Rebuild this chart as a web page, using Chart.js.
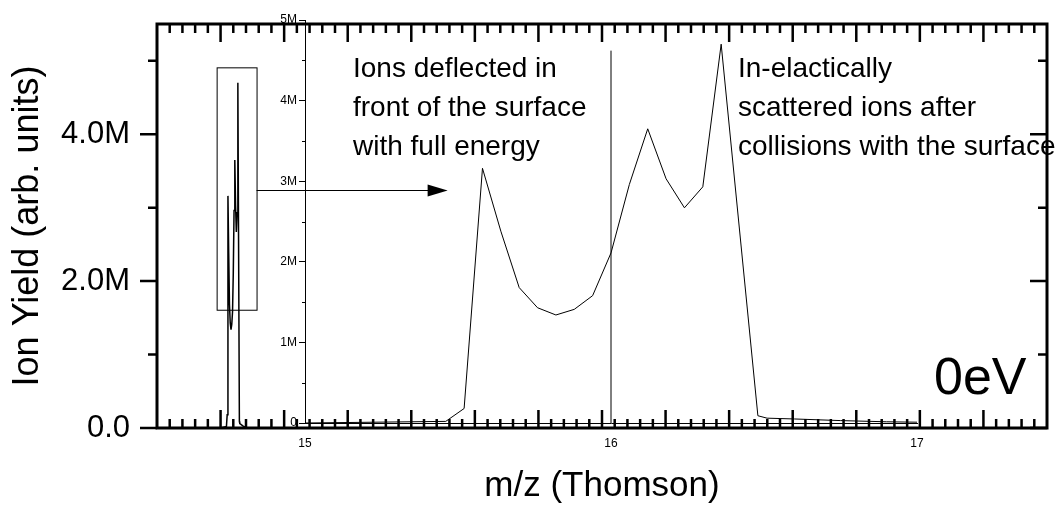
<!DOCTYPE html>
<html>
<head>
<meta charset="utf-8">
<title>Ion Yield 0eV</title>
<script src="https://cdn.jsdelivr.net/npm/chart.js@4.4.1/dist/chart.umd.min.js"></script>
<style>
    html, body { margin: 0; padding: 0; background: #fff; }
    #wrap { position: relative; width: 1061px; height: 506px; overflow: hidden; }
    #mainChart { position: absolute; left: 0; top: 0; }
    #insetChart { position: absolute; left: 250px; top: 0; }
</style>
</head>
<body>
<div id="wrap">
    <canvas id="mainChart" width="1061" height="506"></canvas>
    <canvas id="insetChart" width="700" height="460"></canvas>
</div>
<script>
// Spectrum (m/z in Thomson, yield in arb. units)
const mzValues = [15.00, 15.46, 15.52, 15.58, 15.64, 15.70, 15.76, 15.82, 15.88, 15.94, 16.00,
    16.06, 16.12, 16.18, 16.24, 16.30, 16.36, 16.48, 16.51, 16.60, 16.75, 16.90, 17.00];
const ionYield = [0, 0.02e6, 0.18e6, 3.16e6, 2.38e6, 1.68e6, 1.43e6, 1.34e6, 1.41e6, 1.58e6, 2.11e6,
    2.96e6, 3.65e6, 3.03e6, 2.67e6, 2.93e6, 4.70e6, 0.09e6, 0.06e6, 0.05e6, 0.03e6, 0.015e6, 0.01e6];

// Main axes ticks
const mainYTickValues = [0, 2e6, 4e6];
const mainYTickLabels = ['0.0', '2.0M', '4.0M'];
const mainYMinorValues = [1e6, 3e6, 5e6];

// Inset axes ticks
const insetXTickValues = [15, 16, 17];
const insetXTickLabels = ['15', '16', '17'];
const insetYTickValues = [0, 1e6, 2e6, 3e6, 4e6, 5e6];
const insetYTickLabels = ['0', '1M', '2M', '3M', '4M', '5M'];
const insetYMinorValues = [0.5e6, 1.5e6, 2.5e6, 3.5e6, 4.5e6];

// Vertical marker in the inset
const markerMz = [16, 16];
const markerYield = [0, 4.62e6];

// Annotations
const leftNote = ['Ions deflected in', 'front of the surface', 'with full energy'];
const rightNote = ['In-elactically', 'scattered ions after', 'collisions with the surface'];
const energyLabel = '0eV';

const FONT = '"Liberation Sans", Arial, Helvetica, sans-serif';

function toPoints(xs, ys) {
    return xs.map((x, i) => ({ x: x, y: ys[i] }));
}

// keep tick label overhang from pushing the plot area around
function noLabelPadding(scale) {
    scale.paddingTop = 0;
    scale.paddingBottom = 0;
    scale.paddingLeft = 0;
    scale.paddingRight = 0;
}

// Frame, minor ticks, zoom box, arrow and notes on the main chart
const mainDecor = {
    id: 'mainDecor',
    afterDraw(chart) {
        const { ctx, chartArea: a, scales: { x, y } } = chart;
        ctx.save();
        ctx.strokeStyle = '#000';
        ctx.fillStyle = '#000';

        // x ticks every 1, major every 5, pointing inward
        ctx.lineWidth = 2.5;
        ctx.beginPath();
        for (let v = 11; v < 80; v++) {
            const px = x.getPixelForValue(v);
            const len = v % 5 === 0 ? 18 : 9;
            ctx.moveTo(px, a.bottom); ctx.lineTo(px, a.bottom - len);
            ctx.moveTo(px, a.top); ctx.lineTo(px, a.top + len);
        }
        // y ticks: outward on the left, inward on the right
        mainYTickValues.concat(mainYMinorValues).forEach(v => {
            const py = y.getPixelForValue(v);
            const len = mainYMinorValues.includes(v) ? 9 : 17;
            ctx.moveTo(a.left, py); ctx.lineTo(a.left - len, py);
            ctx.moveTo(a.right, py); ctx.lineTo(a.right - len, py);
        });
        ctx.stroke();

        ctx.lineWidth = 3;
        ctx.strokeRect(a.left, a.top, a.right - a.left, a.bottom - a.top);

        // zoom box around the peak
        ctx.lineWidth = 1;
        const bx1 = x.getPixelForValue(14.69), bx2 = x.getPixelForValue(17.83);
        const by1 = y.getPixelForValue(4.91e6), by2 = y.getPixelForValue(1.61e6);
        ctx.strokeRect(bx1 + 0.5, by1 + 0.5, bx2 - bx1, by2 - by1);

        // arrow to the inset
        const ay = Math.round(y.getPixelForValue(3.24e6)) + 0.5;
        const tip = x.getPixelForValue(32.86);
        ctx.beginPath();
        ctx.moveTo(bx2, ay); ctx.lineTo(tip - 16, ay);
        ctx.stroke();
        ctx.beginPath();
        ctx.moveTo(tip, ay); ctx.lineTo(tip - 20, ay - 6); ctx.lineTo(tip - 20, ay + 6);
        ctx.closePath();
        ctx.fill();

        // notes
        ctx.font = '28px ' + FONT;
        ctx.textAlign = 'left';
        ctx.textBaseline = 'alphabetic';
        leftNote.forEach((t, i) => ctx.fillText(t, 353, 77 + i * 39));
        rightNote.forEach((t, i) => ctx.fillText(t, 738, 77 + i * 39));
        ctx.font = '52px ' + FONT;
        ctx.fillText(energyLabel, 934, 394);
        ctx.restore();
    }
};

// Minor y ticks on the inset axis
const insetDecor = {
    id: 'insetDecor',
    afterDraw(chart) {
        const { ctx, chartArea: a, scales: { y } } = chart;
        ctx.save();
        ctx.strokeStyle = '#000';
        ctx.lineWidth = 1;
        ctx.beginPath();
        insetYMinorValues.forEach(v => {
            const py = Math.round(y.getPixelForValue(v)) + 0.5;
            ctx.moveTo(a.left, py); ctx.lineTo(a.left - 3, py);
        });
        ctx.stroke();
        ctx.restore();
    }
};

new Chart(document.getElementById('mainChart'), {
    type: 'line',
    data: {
        datasets: [{
            data: toPoints(mzValues, ionYield),
            borderColor: '#000',
            borderWidth: 1.5,
            pointRadius: 0,
            fill: false,
            tension: 0
        }]
    },
    options: {
        responsive: false,
        animation: false,
        devicePixelRatio: 1,
        layout: { padding: { top: 24, right: 14, left: 0, bottom: 0 } },
        plugins: { legend: { display: false }, tooltip: { enabled: false } },
        scales: {
            x: {
                type: 'linear',
                min: 10,
                max: 80,
                ticks: { display: false },
                grid: { display: false, drawTicks: false },
                border: { display: false },
                title: {
                    display: true,
                    text: 'm/z (Thomson)',
                    color: '#000',
                    font: { family: FONT, size: 35, lineHeight: 1.1 },
                    padding: 0
                },
                afterFit: function(scale) {
                    scale.height = 78;
                    noLabelPadding(scale);
                }
            },
            y: {
                min: 0,
                max: 5.5e6,
                afterBuildTicks: function(scale) {
                    scale.ticks = mainYTickValues.map(v => ({ value: v }));
                },
                ticks: {
                    color: '#000',
                    font: { family: FONT, size: 31 },
                    padding: 27,
                    callback: function(value) {
                        return mainYTickLabels[mainYTickValues.indexOf(value)];
                    }
                },
                grid: { display: false, drawTicks: false },
                border: { display: false },
                title: {
                    display: true,
                    text: 'Ion Yield (arb. units)',
                    color: '#000',
                    font: { family: FONT, size: 36, lineHeight: 1.2 },
                    padding: { top: 6, bottom: 0 }
                },
                afterFit: function(scale) {
                    scale.width = 157;
                    noLabelPadding(scale);
                }
            }
        }
    },
    plugins: [mainDecor]
});

new Chart(document.getElementById('insetChart'), {
    type: 'line',
    data: {
        datasets: [{
            data: toPoints(mzValues, ionYield),
            borderColor: '#000',
            borderWidth: 1,
            pointRadius: 0,
            fill: false,
            tension: 0
        }, {
            data: toPoints(markerMz, markerYield),
            borderColor: '#000',
            borderWidth: 1,
            pointRadius: 0,
            fill: false
        }]
    },
    options: {
        responsive: false,
        animation: false,
        devicePixelRatio: 1,
        layout: { padding: { top: 20, right: 33, left: 0, bottom: 0 } },
        plugins: { legend: { display: false }, tooltip: { enabled: false } },
        scales: {
            x: {
                type: 'linear',
                min: 15,
                max: 17,
                afterBuildTicks: function(scale) {
                    scale.ticks = insetXTickValues.map(v => ({ value: v }));
                },
                ticks: {
                    color: '#000',
                    font: { family: FONT, size: 12 },
                    padding: 13,
                    maxRotation: 0,
                    callback: function(value) {
                        return insetXTickLabels[insetXTickValues.indexOf(value)];
                    }
                },
                grid: { display: false, drawTicks: false },
                border: { display: true, color: '#000', width: 1 },
                afterFit: function(scale) {
                    scale.height = 37;
                    noLabelPadding(scale);
                }
            },
            y: {
                min: 0,
                max: 5e6,
                afterBuildTicks: function(scale) {
                    scale.ticks = insetYTickValues.map(v => ({ value: v }));
                },
                ticks: {
                    color: '#000',
                    font: { family: FONT, size: 12 },
                    padding: 2,
                    callback: function(value) {
                        return insetYTickLabels[insetYTickValues.indexOf(value)];
                    }
                },
                grid: {
                    display: true,
                    drawOnChartArea: false,
                    tickLength: 6,
                    color: '#000',
                    lineWidth: 1
                },
                border: { display: true, color: '#000', width: 1 },
                afterFit: function(scale) {
                    scale.width = 55;
                    noLabelPadding(scale);
                }
            }
        }
    },
    plugins: [insetDecor]
});
</script>
</body>
</html>
